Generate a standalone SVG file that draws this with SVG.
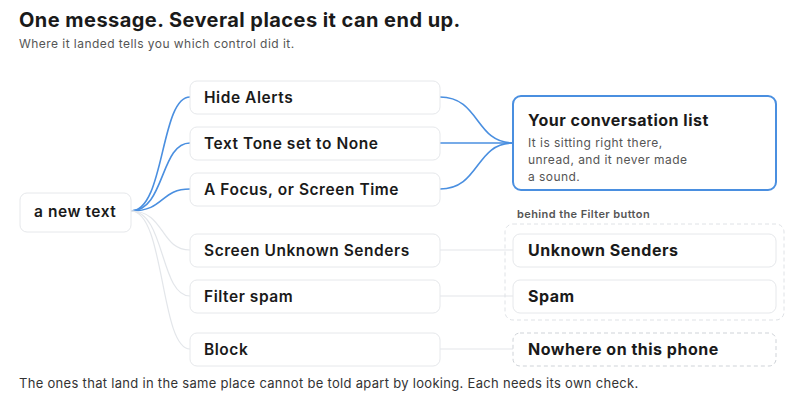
<svg xmlns="http://www.w3.org/2000/svg" width="803" height="410" viewBox="0 0 803 410">
<style>
text{font-family:Inter,"Noto Sans",sans-serif;fill:#1a1a1a}
.t{font-size:20px;font-weight:700;letter-spacing:0.45px}
.s{font-size:12px;fill:#555;letter-spacing:0.45px}
.n{font-size:15.5px;font-weight:600;letter-spacing:0.55px}
.b{font-size:16px;font-weight:700;letter-spacing:0.5px}
.box{fill:#fff;stroke:#e6e8eb;stroke-width:1}
.blue{fill:none;stroke:#4a8fe0;stroke-width:1.6}
.grey{fill:none;stroke:#e3e6ea;stroke-width:1.2}
</style>
<rect width="803" height="410" fill="#fff"/>
<text class="t" x="19" y="27">One message. Several places it can end up.</text>
<text class="s" x="19" y="48">Where it landed tells you which control did it.</text>
<g id="connectors">
<path class="blue" d="M131,211 C165,211 160,97 190,97"/>
<path class="blue" d="M131,211 C165,211 160,143 190,143"/>
<path class="blue" d="M131,211 C165,211 160,189 190,189"/>
<path class="grey" d="M131,211 C165,211 160,250 190,250"/>
<path class="grey" d="M131,211 C165,211 160,296 190,296"/>
<path class="grey" d="M131,211 C165,211 160,349 190,349"/>
<path class="blue" d="M440,97 C480,97 475,143 513,143"/>
<path class="blue" d="M440,143 L513,143"/>
<path class="blue" d="M440,189 C480,189 475,143 513,143"/>
<path class="grey" d="M440,250 L513,250"/>
<path class="grey" d="M440,296 L513,296"/>
<path class="grey" d="M440,349 L513,349"/>
</g>
<g id="src"><rect class="box" x="20" y="193" width="111" height="39" rx="7"/><text class="n" x="34" y="217">a new text</text></g>
<g id="hide"><rect class="box" x="190" y="81" width="250" height="33" rx="7"/><text class="n" x="204" y="103">Hide Alerts</text></g>
<g id="tone"><rect class="box" x="190" y="127" width="250" height="33" rx="7"/><text class="n" x="204" y="149">Text Tone set to None</text></g>
<g id="focus"><rect class="box" x="190" y="173" width="250" height="33" rx="7"/><text class="n" x="204" y="195">A Focus, or Screen Time</text></g>
<g id="screen"><rect class="box" x="190" y="234" width="250" height="33" rx="7"/><text class="n" x="204" y="256">Screen Unknown Senders</text></g>
<g id="filter"><rect class="box" x="190" y="280" width="250" height="33" rx="7"/><text class="n" x="204" y="302">Filter spam</text></g>
<g id="block"><rect class="box" x="190" y="333" width="250" height="33" rx="7"/><text class="n" x="204" y="355">Block</text></g>
<g id="conv"><rect x="513" y="96" width="263" height="94" rx="8" fill="#fff" stroke="#4a8fe0" stroke-width="2"/>
<text class="b" x="528" y="126">Your conversation list</text>
<text class="s" x="528" y="147">It is sitting right there,</text>
<text class="s" x="528" y="164">unread, and it never made</text>
<text class="s" x="528" y="181">a sound.</text></g>
<g id="filtergroup"><rect x="505" y="224" width="279" height="96" rx="8" fill="none" stroke="#dfe2e6" stroke-dasharray="4 3"/>
<text x="517" y="218" style="font-size:11px;font-weight:600;fill:#555;letter-spacing:0.4px">behind the Filter button</text></g>
<g id="unknown"><rect class="box" x="513" y="234" width="263" height="33" rx="7"/><text class="b" x="528" y="256">Unknown Senders</text></g>
<g id="spam"><rect class="box" x="513" y="280" width="263" height="33" rx="7"/><text class="b" x="528" y="302">Spam</text></g>
<g id="nowhere"><rect x="513" y="333" width="263" height="33" rx="7" fill="#fff" stroke="#cfd3d8" stroke-dasharray="4 3"/><text class="b" x="528" y="355">Nowhere on this phone</text></g>
<text x="19" y="388" style="font-size:13px;fill:#333;letter-spacing:0.3px">The ones that land in the same place cannot be told apart by looking. Each needs its own check.</text>
</svg>
